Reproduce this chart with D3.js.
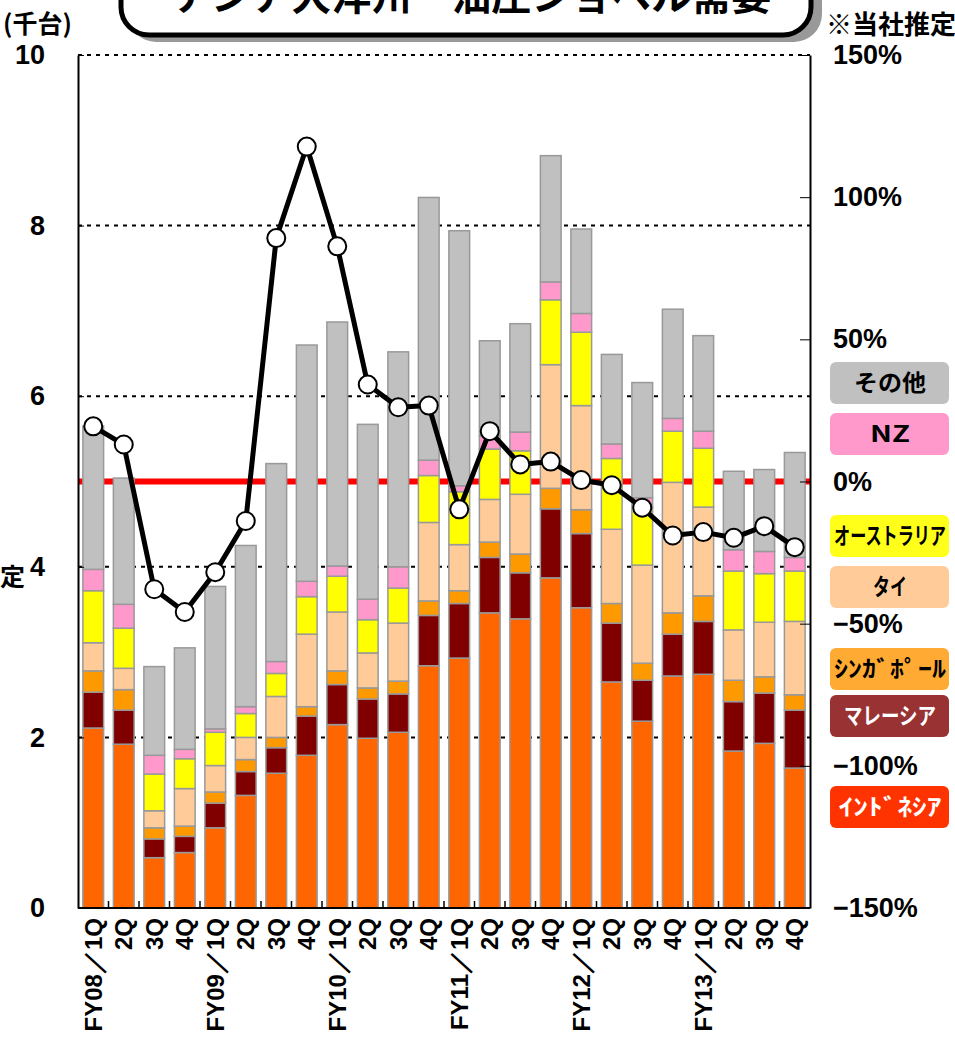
<!DOCTYPE html>
<html>
<head>
<meta charset="utf-8">
<script src="https://cdn.jsdelivr.net/npm/d3@7"></script>
<style>
body { margin: 0; background: #fff; }
text { font-family: "Liberation Sans", Arial, sans-serif; font-weight: bold; fill: #000; }
.jp { font-family: "Noto Sans CJK JP", sans-serif; font-weight: bold; }
</style>
</head>
<body>
<div id="chart"></div>
<script>
// quarters on the x axis
const quarters = ["FY08／1Q","2Q","3Q","4Q","FY09／1Q","2Q","3Q","4Q","FY10／1Q","2Q","3Q","4Q",
                  "FY11／1Q","2Q","3Q","4Q","FY12／1Q","2Q","3Q","4Q","FY13／1Q","2Q","3Q","4Q"]

// demand per country (thousand units)
const indonesia = [2.11,1.92,0.59,0.65,0.94,1.32,1.58,1.79,2.15,1.99,2.06,2.84,2.93,3.46,3.39,3.87,3.52,2.65,2.19,2.72,2.74,1.84,1.93,1.64]
const malaysia  = [0.42,0.40,0.22,0.19,0.29,0.28,0.30,0.46,0.47,0.46,0.45,0.59,0.64,0.65,0.54,0.81,0.87,0.69,0.48,0.49,0.62,0.58,0.59,0.68]
const singapore = [0.25,0.24,0.13,0.12,0.13,0.14,0.12,0.11,0.16,0.13,0.15,0.17,0.15,0.18,0.22,0.24,0.28,0.23,0.20,0.25,0.30,0.25,0.19,0.18]
const thailand  = [0.33,0.25,0.20,0.44,0.31,0.26,0.48,0.85,0.69,0.41,0.68,0.92,0.54,0.50,0.70,1.45,1.22,0.87,1.15,1.53,1.04,0.59,0.64,0.86]
const australia = [0.61,0.47,0.43,0.35,0.39,0.28,0.27,0.44,0.42,0.39,0.41,0.55,0.62,0.59,0.51,0.76,0.86,0.83,0.68,0.60,0.69,0.69,0.57,0.59]
const newZealand= [0.25,0.28,0.22,0.11,0.04,0.08,0.14,0.18,0.12,0.24,0.25,0.18,0.07,0.15,0.22,0.21,0.22,0.17,0.11,0.15,0.20,0.25,0.26,0.16]
const others    = [1.68,1.48,1.04,1.19,1.67,1.89,2.32,2.77,2.86,2.05,2.52,3.08,2.99,1.12,1.27,1.48,0.99,1.05,1.35,1.28,1.12,0.92,0.96,1.23]

// year on year change (%), right axis
const yoy = [19.4,13.0,-37.9,-45.9,-31.9,-13.9,85.6,117.8,82.7,34.1,26.1,26.7,
             -9.8,17.7,6.0,7.0,0.5,-1.3,-9.2,-19.0,-17.8,-19.8,-15.7,-23.1]

const leftTicks = [0,2,4,6,8,10]
const rightTicks = [-150,-100,-50,0,50,100,150]

const seriesKeys = ["indonesia","malaysia","singapore","thailand","australia","newZealand","others"]
const seriesValues = [indonesia,malaysia,singapore,thailand,australia,newZealand,others]
const barColors = ["#ff6600","#800000","#ff9900","#ffcc99","#ffff00","#ff99cc","#c0c0c0"]

// legend (top to bottom)
const legendLabels = ["その他","NZ","オーストラリア","タイ","ｼﾝｶﾞﾎﾟｰﾙ","マレーシア","ｲﾝﾄﾞﾈｼｱ"]
const legendColors = ["#c0c0c0","#ff99cc","#ffff1a","#ffcc99","#ffaa33","#993333","#ff3300"]
const legendTextColors = ["#000","#000","#000","#000","#000","#fff","#fff"]
const legendTop = [362,413,515,566,648,695,786]
const legendTextWidth = [72,40,112,34,112,92,103]

const margin = { top: 55, right: 145, bottom: 129, left: 78 }
const fullWidth = 955, fullHeight = 1037
const width = fullWidth - margin.left - margin.right
const height = fullHeight - margin.top - margin.bottom

const svg = d3.select("#chart").append("svg")
    .attr("width", fullWidth)
    .attr("height", fullHeight)

const rows = quarters.map((q, i) => {
    const row = { idx: i }
    seriesKeys.forEach((k, j) => row[k] = seriesValues[j][i])
    return row
})

const x = d3.scaleBand()
    .domain(d3.range(quarters.length))
    .range([0, width])
    .paddingInner(0.32)
    .paddingOuter(0.16)

const y = d3.scaleLinear().domain([0, 10]).range([height, 0])
const yPct = d3.scaleLinear().domain([-150, 150]).range([height, 0])

const g = svg.append("g").attr("transform", `translate(${margin.left},${margin.top})`)

// dotted grid
g.selectAll(".grid").data(leftTicks.filter(d => d > 0))
    .enter().append("line")
        .attr("x1", 0).attr("x2", width)
        .attr("y1", d => y(d)).attr("y2", d => y(d))
        .attr("stroke", "#000").attr("stroke-width", 2)
        .attr("stroke-dasharray", "4,5")

// 0% line
g.append("line")
    .attr("x1", 0).attr("x2", width)
    .attr("y1", yPct(0)).attr("y2", yPct(0))
    .attr("stroke", "#ff0000").attr("stroke-width", 6)

// stacked bars
const stacked = d3.stack().keys(seriesKeys)(rows)
g.selectAll(".layer").data(stacked)
    .enter().append("g")
        .attr("fill", (d, i) => barColors[i])
    .selectAll("rect").data(d => d)
    .enter().append("rect")
        .attr("x", d => x(d.data.idx))
        .attr("width", x.bandwidth())
        .attr("y", d => y(d[1]))
        .attr("height", d => y(d[0]) - y(d[1]))
        .attr("stroke", "#999999")
        .attr("stroke-width", 1.5)

// axes
const leftAxis = d3.axisLeft(y).tickValues(leftTicks).tickSizeInner(-6).tickSizeOuter(0).tickPadding(33)
const la = g.append("g").call(leftAxis)
la.select(".domain").attr("stroke-width", 2)
la.selectAll("text").style("font-size", "27px").attr("fill", "#000")

const rightAxis = d3.axisRight(yPct).tickValues(rightTicks).tickSizeInner(-10).tickSizeOuter(0).tickPadding(23)
    .tickFormat(d => (d < 0 ? "−" + (-d) : d) + "%")
const ra = g.append("g").attr("transform", `translate(${width},0)`).call(rightAxis)
ra.select(".domain").attr("stroke-width", 2)
ra.selectAll("text").style("font-size", "27px").attr("fill", "#000")

// bottom axis with ticks between the bars
g.append("line")
    .attr("x1", 0).attr("x2", width)
    .attr("y1", height).attr("y2", height)
    .attr("stroke", "#000").attr("stroke-width", 2)
g.selectAll(".xtick").data(d3.range(1, quarters.length))
    .enter().append("line")
        .attr("x1", d => x(d) - x.step() * x.paddingInner() / 2)
        .attr("x2", d => x(d) - x.step() * x.paddingInner() / 2)
        .attr("y1", height).attr("y2", height - 7)
        .attr("stroke", "#000").attr("stroke-width", 1.5)

g.selectAll(".xlabel").data(quarters)
    .enter().append("text")
        .attr("transform", (d, i) => `translate(${x(i) + x.bandwidth() / 2},${height + 10}) rotate(-90)`)
        .attr("text-anchor", "end")
        .attr("dy", "0.36em")
        .style("font-size", "24px")
        .text(d => d)

// yoy line
const line = d3.line()
    .x((d, i) => x(i) + x.bandwidth() / 2)
    .y(d => yPct(d))
g.append("path").datum(yoy)
    .attr("d", line)
    .attr("fill", "none")
    .attr("stroke", "#000")
    .attr("stroke-width", 5)
    .attr("stroke-linejoin", "round")
g.selectAll(".dot").data(yoy)
    .enter().append("circle")
        .attr("cx", (d, i) => x(i) + x.bandwidth() / 2)
        .attr("cy", d => yPct(d))
        .attr("r", 9)
        .attr("fill", "#fff")
        .attr("stroke", "#000")
        .attr("stroke-width", 2)

// legend
const lg = svg.selectAll(".legend").data(legendLabels)
    .enter().append("g")
        .attr("transform", (d, i) => `translate(830,${legendTop[i]})`)
lg.append("rect")
    .attr("width", 119).attr("height", 42).attr("rx", 6)
    .attr("fill", (d, i) => legendColors[i])
lg.append("text")
    .attr("class", "jp")
    .attr("text-anchor", "middle")
    .attr("dy", "0.36em")
    .style("font-size", "23px")
    .style("fill", (d, i) => legendTextColors[i])
    .text(d => d)
    .each(function(d, i) {
        const natural = this.getComputedTextLength()
        const k = legendTextWidth[i] / natural
        d3.select(this).attr("transform", `translate(60,21) scale(${k},1)`)
    })

// texts around the chart
svg.append("text").attr("class", "jp")
    .attr("x", 3).attr("y", 33).style("font-size", "25px").text("(千台)")
svg.append("text").attr("class", "jp")
    .attr("x", 956).attr("y", 34).attr("text-anchor", "end").style("font-size", "26px").text("※当社推定")
svg.append("text").attr("class", "jp")
    .attr("x", 0).attr("y", 586).style("font-size", "25px").text("定")

// title box, cut off at the top
svg.append("rect")
    .attr("x", 128).attr("y", -60).attr("width", 694).attr("height", 102).attr("rx", 28)
    .attr("fill", "#999")
svg.append("rect")
    .attr("x", 121).attr("y", -60).attr("width", 690).attr("height", 95).attr("rx", 28)
    .attr("fill", "#fff").attr("stroke", "#000").attr("stroke-width", 5)
svg.append("text").attr("class", "jp")
    .attr("x", 472).attr("y", 10).attr("text-anchor", "middle")
    .style("font-size", "40px")
    .text("アジア大洋州　油圧ショベル需要")
</script>
</body>
</html>
